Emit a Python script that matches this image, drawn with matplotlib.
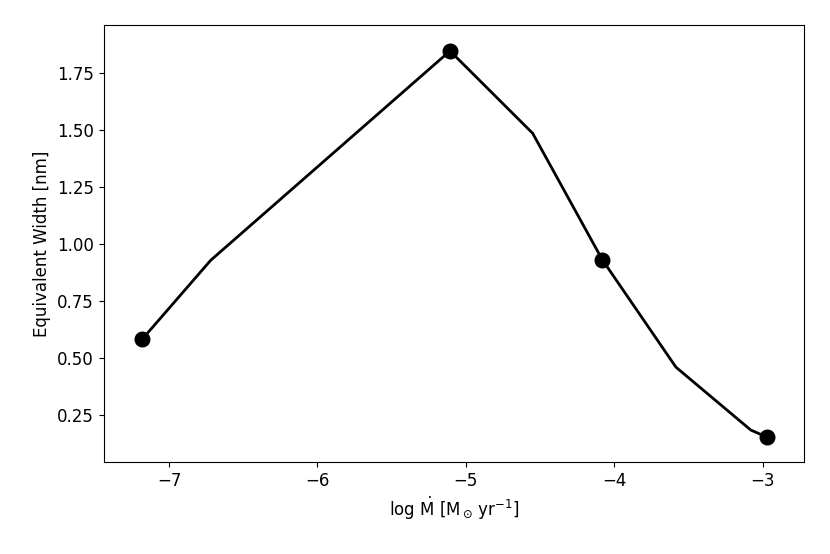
import matplotlib
matplotlib.use("Agg")
import matplotlib.pyplot as plt

# mass-loss rate grid and equivalent widths
log_mdot = [-7.18, -6.72, -5.107, -4.55, -4.08, -3.585, -3.08, -2.97]
ew_nm = [0.583, 0.928, 1.846, 1.485, 0.93, 0.46, 0.184, 0.153]

# models that are marked with dots
mark_x = [-7.18, -5.107, -4.08, -2.97]
mark_y = [0.583, 1.846, 0.93, 0.153]

plt.rcParams["font.size"] = 12

fig, ax = plt.subplots(figsize=(8.3, 5.54), dpi=100)
fig.subplots_adjust(left=0.125, right=0.969, bottom=0.166, top=0.955)

ax.plot(log_mdot, ew_nm, color="black", lw=2)
ax.plot(mark_x, mark_y, "o", color="black", ms=10.5)

ax.set_xlim(-7.44, -2.72)
ax.set_ylim(0.044, 1.96)
ax.set_xlabel(r"log $\dot{\rm M}$ [M$_\odot\,$yr$^{-1}$]")
ax.set_ylabel("Equivalent Width [nm]")

fig.savefig("out.png")
